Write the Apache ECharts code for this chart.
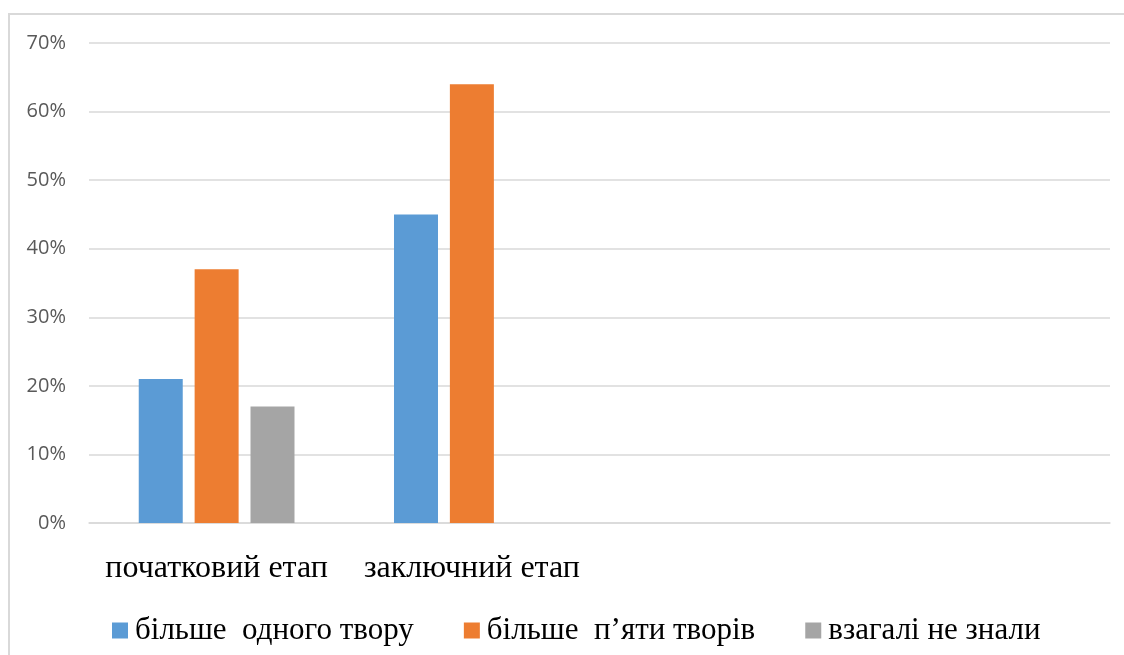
<!DOCTYPE html>
<html><head><meta charset="utf-8">
<script src="https://cdn.jsdelivr.net/npm/echarts@6/dist/echarts.min.js"></script>
<style>html,body{margin:0;padding:0;background:#fff}#c{width:1124px;height:655px}</style>
</head><body><div id="c"></div>
<script>
const categories = ['початковий етап', 'заключний етап', '', ''];
const seriesNames = ['більше  одного твору', 'більше  п’яти творів', 'взагалі не знали'];
const oneWork = [21, 45, null, null];
const fiveWorks = [37, 64, null, null];
const didNotKnow = [17, null, null, null];
const colors = ['#5B9BD5', '#ED7D31', '#A5A5A5'];

const chart = echarts.init(document.getElementById('c'));
const serif = '"Liberation Serif", "DejaVu Serif", serif';
chart.setOption({
  animation: false,
  graphic: [{type: 'rect', shape: {x: 9, y: 14, width: 1125, height: 660}, style: {fill: 'none', stroke: '#d9d9d9', lineWidth: 2}}],
  grid: {left: 89, right: 14, top: 43, bottom: 132},
  legend: {
    left: 107, top: 610, itemWidth: 16, itemHeight: 16, itemGap: 50,
    icon: 'rect',
    textStyle: {fontFamily: serif, fontSize: 31, color: '#000', padding: [0, 0, 0, 2]},
    data: seriesNames
  },
  xAxis: {
    type: 'category', data: categories,
    axisLine: {lineStyle: {color: '#d9d9d9', width: 1.5}},
    axisTick: {show: false},
    axisLabel: {fontFamily: serif, fontSize: 32, color: '#000', margin: 30, interval: 0}
  },
  yAxis: {
    type: 'value', min: 0, max: 70, interval: 10,
    axisLine: {show: false}, axisTick: {show: false},
    splitLine: {lineStyle: {color: '#d9d9d9', width: 1.5}},
    axisLabel: {formatter: '{value}%', fontFamily: '"Open Sans", "Liberation Sans", sans-serif', fontSize: 20, color: '#595959', margin: 23}
  },
  series: [
    {name: seriesNames[0], type: 'bar', data: oneWork, itemStyle: {color: colors[0]}, barWidth: 44, barGap: '27%'},
    {name: seriesNames[1], type: 'bar', data: fiveWorks, itemStyle: {color: colors[1]}, barWidth: 44, barGap: '27%'},
    {name: seriesNames[2], type: 'bar', data: didNotKnow, itemStyle: {color: colors[2]}, barWidth: 44, barGap: '27%'}
  ]
});
</script></body></html>
